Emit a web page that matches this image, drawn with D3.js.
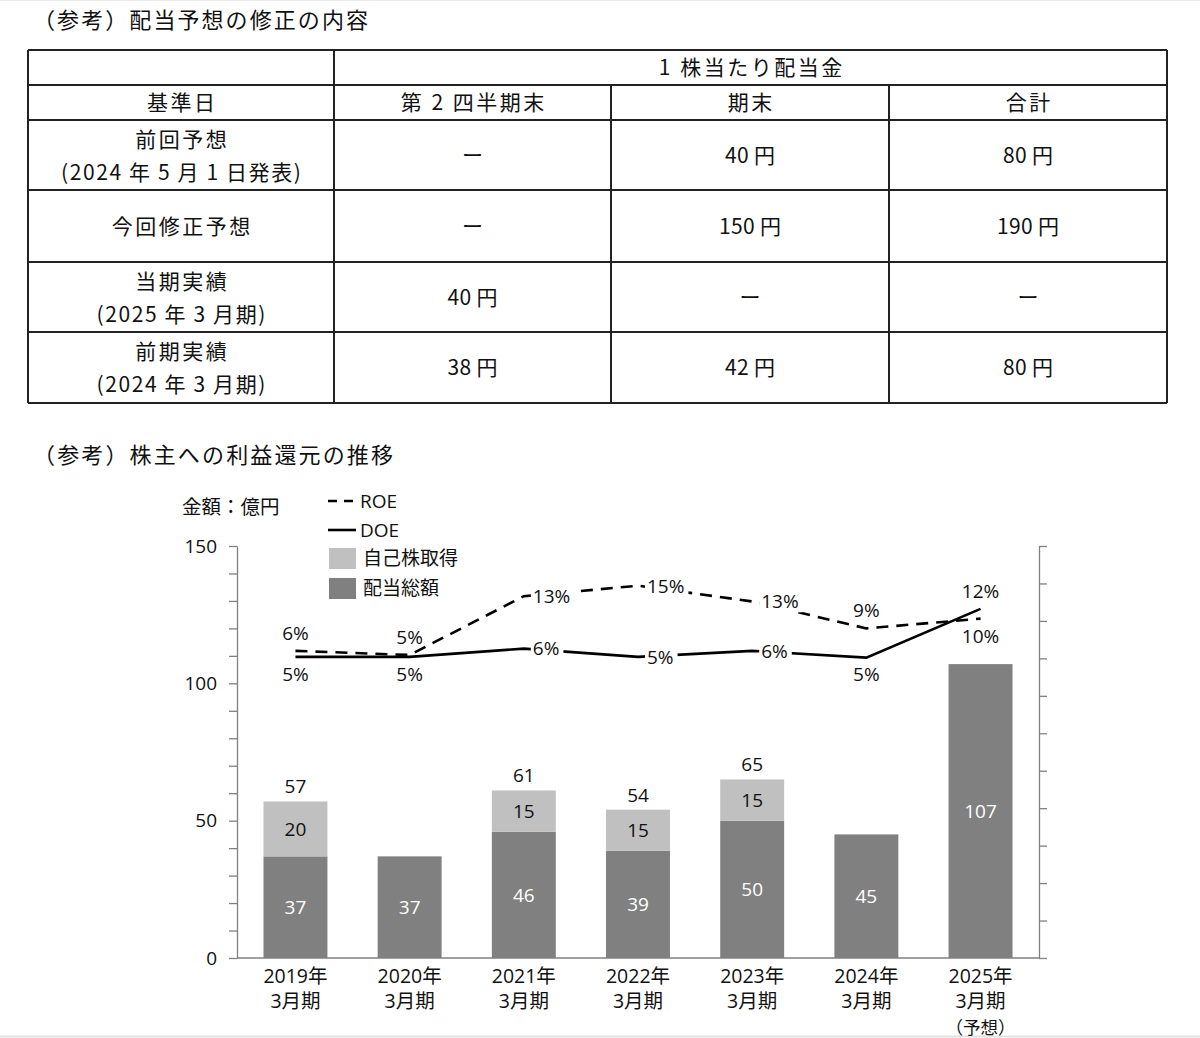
<!DOCTYPE html>
<html><head><meta charset="utf-8">
<script src="https://cdn.jsdelivr.net/npm/d3@7"></script>
<style>body{margin:0;background:#fff} svg{display:block}</style>
</head><body><svg id="c" width="1200" height="1038"></svg>
<script>
// ---- table data ----
const tableTitle = "（参考）配当予想の修正の内容";
const tableHeaderTop = "1 株当たり配当金";
const tableColumns = ["基準日", "第 2 四半期末", "期末", "合計"];
const tableRowLabels = [["前回予想", "(2024 年 5 月 1 日発表)"], ["今回修正予想"], ["当期実績", "(2025 年 3 月期)"], ["前期実績", "(2024 年 3 月期)"]];
const tableQ2 = ["ー", "ー", "40 円", "38 円"];
const tableYearEnd = ["40 円", "150 円", "ー", "42 円"];
const tableTotal = ["80 円", "190 円", "ー", "80 円"];

// ---- chart data ----
const chartTitle = "（参考）株主への利益還元の推移";
const unitLabel = "金額：億円";
const categories = ["2019年", "2020年", "2021年", "2022年", "2023年", "2024年", "2025年"];
const categorySub = ["3月期", "3月期", "3月期", "3月期", "3月期", "3月期", "3月期"];
const categoryNote = ["", "", "", "", "", "", "（予想）"];
const dividendTotal = [37, 37, 46, 39, 50, 45, 107];
const buyback = [20, 0, 15, 15, 15, 0, 0];
const roe = [6.0, 5.45, 13.3, 14.7, 12.6, 9.0, 10.3];
const doe = [5.2, 5.2, 6.3, 5.2, 6.0, 5.1, 11.6];
const roeLabels = ["6%", "5%", "13%", "15%", "13%", "9%", "10%"];
const doeLabels = ["5%", "5%", "6%", "5%", "6%", "5%", "12%"];
const roeLabelPos = ["above", "above", "right", "right", "right", "above", "below"];
const doeLabelPos = ["below", "below", "right", "right", "right", "below", "above"];
const leftTickLabels = [0, 50, 100, 150];
const legendItems = ["ROE", "DOE", "自己株取得", "配当総額"];

const DARK = "#808080", LIGHT = "#c0c0c0", AXIS = "#808080";
const CJK = "'Noto Sans CJK JP', sans-serif";
const CHART_FONT = "'Open Sans', 'Noto Sans CJK JP', sans-serif";

const svg = d3.select("#c");

// faint page edges
svg.append("line").attr("x1", 0).attr("x2", 1200).attr("y1", 1036.5).attr("y2", 1036.5).attr("stroke", "#e2e2e2").attr("stroke-width", 2);
svg.append("line").attr("x1", 0).attr("x2", 1200).attr("y1", 0.5).attr("y2", 0.5).attr("stroke", "#ececec").attr("stroke-width", 1);

// ================= TABLE =================
const colX = [28, 334, 611, 889, 1167];
const rowY = [50, 85, 120, 190, 262, 332, 403];
const tg = svg.append("g").attr("font-family", CJK).attr("font-size", 21).attr("fill", "#111");

svg.append("text").attr("x", 33).attr("y", 20).attr("dy", "0.36em")
  .attr("font-family", CJK).attr("font-size", 22).attr("fill", "#111")
  .attr("textLength", 335).text(tableTitle);

// grid lines
const lines = [];
rowY.forEach((y, i) => lines.push([colX[0], y, colX[4], y]));
lines.push([colX[0], rowY[0], colX[0], rowY[6]]);
lines.push([colX[1], rowY[0], colX[1], rowY[6]]);
lines.push([colX[2], rowY[1], colX[2], rowY[6]]);
lines.push([colX[3], rowY[1], colX[3], rowY[6]]);
lines.push([colX[4], rowY[0], colX[4], rowY[6]]);
tg.selectAll("line").data(lines).join("line")
  .attr("x1", d => d[0]).attr("y1", d => d[1]).attr("x2", d => d[2]).attr("y2", d => d[3])
  .attr("stroke", "#222").attr("stroke-width", 1.4).attr("shape-rendering", "crispEdges");

const cx = i => (colX[i] + colX[i + 1]) / 2;
const ry = i => (rowY[i] + rowY[i + 1]) / 2;
function cell(txt, x, y, ls) {
  tg.append("text").attr("x", x + ls / 2).attr("y", y).attr("dy", "0.36em").attr("text-anchor", "middle")
    .attr("letter-spacing", ls).text(txt);
}
cell(tableHeaderTop, (colX[1] + colX[4]) / 2, ry(0), 2.5);
tableColumns.forEach((t, i) => cell(t, cx(i), ry(1), 2.5));
tableRowLabels.forEach((lbl, r) => {
  const yc = ry(r + 2);
  if (lbl.length === 2) { cell(lbl[0], cx(0), yc - 16, 2.5); cell(lbl[1], cx(0), yc + 17, 1.6); }
  else cell(lbl[0], cx(0), yc, 2.5);
  cell(tableQ2[r], cx(1), yc, 0.3);
  cell(tableYearEnd[r], cx(2), yc, 0.3);
  cell(tableTotal[r], cx(3), yc, 0.3);
});

// ================= CHART =================
svg.append("text").attr("x", 33).attr("y", 455).attr("dy", "0.36em")
  .attr("font-family", CJK).attr("font-size", 22).attr("fill", "#111")
  .attr("textLength", 360).text(chartTitle);

const y = d3.scaleLinear().domain([0, 150]).range([958, 546]);
const yR = d3.scaleLinear().domain([-35, 20]).range([958, 546]);
const x = d3.scaleBand().domain(categories).range([237, 1039]).paddingInner(0.44).paddingOuter(0.232);
const xc = c => x(c) + x.bandwidth() / 2;

const g = svg.append("g").attr("font-family", CHART_FONT).attr("fill", "#111");

// bars
g.append("g").selectAll("rect").data(categories).join("rect")
  .attr("x", c => x(c)).attr("width", x.bandwidth())
  .attr("y", (c, i) => y(dividendTotal[i])).attr("height", (c, i) => y(0) - y(dividendTotal[i]))
  .attr("fill", DARK);
g.append("g").selectAll("rect").data(categories.filter((c, i) => buyback[i] > 0)).join("rect")
  .attr("x", c => x(c)).attr("width", x.bandwidth())
  .attr("y", c => { const i = categories.indexOf(c); return y(dividendTotal[i] + buyback[i]); })
  .attr("height", c => { const i = categories.indexOf(c); return y(dividendTotal[i]) - y(dividendTotal[i] + buyback[i]); })
  .attr("fill", LIGHT);

// bar labels
categories.forEach((c, i) => {
  g.append("text").attr("x", xc(c)).attr("y", (y(0) + y(dividendTotal[i])) / 2).attr("dy", "0.36em")
    .attr("text-anchor", "middle").attr("font-size", 19).attr("fill", "#fff").text(dividendTotal[i]);
  if (buyback[i] > 0) {
    const top = dividendTotal[i] + buyback[i];
    g.append("text").attr("x", xc(c)).attr("y", (y(dividendTotal[i]) + y(top)) / 2).attr("dy", "0.36em")
      .attr("text-anchor", "middle").attr("font-size", 19).attr("fill", "#111").text(buyback[i]);
    g.append("text").attr("x", xc(c)).attr("y", y(top) - 15).attr("dy", "0.36em")
      .attr("text-anchor", "middle").attr("font-size", 19).attr("fill", "#111").text(top);
  }
});

// axes
const axL = g.append("g").attr("transform", "translate(237,0)")
  .call(d3.axisLeft(y).tickValues(d3.range(0, 151, 10)).tickSize(8).tickSizeOuter(0).tickPadding(12)
    .tickFormat(d => leftTickLabels.includes(d) ? d : ""));
const axR = g.append("g").attr("transform", "translate(1039,0)")
  .call(d3.axisRight(yR).tickValues(d3.range(-35, 21, 5)).tickSize(8).tickSizeOuter(0).tickFormat(""));
[axL, axR].forEach(a => {
  a.selectAll("path,line").attr("stroke", AXIS).attr("stroke-width", 1.3);
  a.selectAll("text").attr("font-family", CHART_FONT).attr("font-size", 19).attr("fill", "#111");
});
g.append("line").attr("x1", 237).attr("x2", 1039).attr("y1", y(0)).attr("y2", y(0))
  .attr("stroke", AXIS).attr("stroke-width", 1.3);

// category labels
categories.forEach((c, i) => {
  g.append("text").attr("x", xc(c)).attr("y", 983).attr("text-anchor", "middle").attr("font-size", 19.5)
    .attr("font-family", CHART_FONT).attr("fill", "#111").text(c);
  g.append("text").attr("x", xc(c)).attr("y", 1008).attr("text-anchor", "middle").attr("font-size", 19.5)
    .attr("font-family", CHART_FONT).attr("fill", "#111").text(categorySub[i]);
  if (categoryNote[i]) g.append("text").attr("x", xc(c)).attr("y", 1034).attr("text-anchor", "middle")
    .attr("font-size", 17.5).attr("font-family", CJK).attr("fill", "#111").text(categoryNote[i]);
});

// lines
const line = d3.line().x((d, i) => xc(categories[i])).y(d => yR(d));
g.append("path").datum(roe).attr("d", line).attr("fill", "none").attr("stroke", "#000")
  .attr("stroke-width", 2.6).attr("stroke-dasharray", "12,8");
g.append("path").datum(doe).attr("d", line).attr("fill", "none").attr("stroke", "#000")
  .attr("stroke-width", 2.6);

function pointLabels(vals, labels, pos) {
  vals.forEach((v, i) => {
    const px = xc(categories[i]), py = yR(v);
    let tx = px, ty = py, anchor = "middle";
    if (pos[i] === "above") ty = py - 18;
    else if (pos[i] === "below") ty = py + 17;
    else { tx = px + 9; anchor = "start"; }
    const t = g.append("text").attr("x", tx).attr("y", ty).attr("dy", "0.36em")
      .attr("text-anchor", anchor).attr("font-size", 19).attr("fill", "#111").text(labels[i]);
    if (pos[i] === "right") {
      const b = t.node().getBBox();
      g.insert("rect", () => t.node()).attr("x", b.x - 2).attr("y", b.y + 2).attr("width", b.width + 6)
        .attr("height", b.height - 4).attr("fill", "#fff");
    }
  });
}
pointLabels(roe, roeLabels, roeLabelPos);
pointLabels(doe, doeLabels, doeLabelPos);

// unit + legend
g.append("text").attr("x", 182).attr("y", 507).attr("dy", "0.36em").attr("font-family", CJK)
  .attr("font-size", 19.5).text(unitLabel);
const lg = g.append("g");
lg.append("line").attr("x1", 328).attr("x2", 356).attr("y1", 501).attr("y2", 501)
  .attr("stroke", "#000").attr("stroke-width", 2.6).attr("stroke-dasharray", "9,7");
lg.append("line").attr("x1", 328).attr("x2", 356).attr("y1", 530).attr("y2", 530)
  .attr("stroke", "#000").attr("stroke-width", 2.6);
lg.append("rect").attr("x", 329).attr("y", 548).attr("width", 27).attr("height", 21).attr("fill", LIGHT);
lg.append("rect").attr("x", 329).attr("y", 578).attr("width", 27).attr("height", 21).attr("fill", DARK);
const legY = [501, 530, 558, 588];
const legX = [360, 360, 363, 363];
legendItems.forEach((t, i) => {
  lg.append("text").attr("x", legX[i]).attr("y", legY[i]).attr("dy", "0.36em")
    .attr("font-family", i < 2 ? CHART_FONT : CJK).attr("font-size", 19).text(t);
});
</script></body></html>
